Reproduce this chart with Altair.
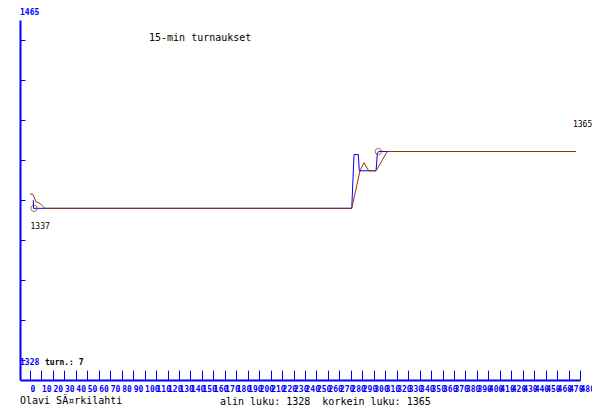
import altair as alt
import pandas as pd

# ---- data ----
raw_t = [2.9, 3.0, 280.8, 282.8, 286.5, 287.4, 302.0, 303.2, 304.6, 476.5]
raw_p = [1341, 1337, 1337, 1363.5, 1363.5, 1355.5, 1355.5, 1364.3, 1365, 1365]

ma_t = [0, 2.4, 5.2, 7.2, 9.3, 11.6, 13.1, 280.8, 288.0, 291.5, 295.6, 302.0, 311.8, 476.5]
ma_p = [1344, 1344, 1340.3, 1339.8, 1339.1, 1337.8, 1337, 1337, 1355.5, 1359.5, 1355.5, 1355.5, 1365, 1365]

ext_t = [3.5, 304.0]
ext_p = [1337, 1365]

min_label_t = [3.5]
min_label_p = [1337]
end_label_t = [476.5]
end_label_p = [1365]

x_ticks = list(range(0, 481, 10))
y_levels = [0, 1, 2, 3, 4, 5, 6, 7, 8]

title_text = "15-min turnaukset"
author_text = "Olavi SÃ¤rkilahti"
footer_text = "alin luku: 1328\u00a0 korkein luku: 1365"
turn_text = "turn.: 7"
y_top_label = "1465"
y_bottom_label = "1328"

BLUE = "#0000ff"
BROWN = "#993300"
MONO = "DejaVu Sans Mono"

X_DOM = [-8.73, 480]
Y_DOM = [1252.4, 1429.8]

df_raw = pd.DataFrame({"t": raw_t, "p": raw_p, "i": range(len(raw_t))})
df_ma = pd.DataFrame({"t": ma_t, "p": ma_p, "i": range(len(ma_t))})
df_ext = pd.DataFrame({"t": ext_t, "p": ext_p})
df_min = pd.DataFrame({"t": min_label_t, "p": min_label_p, "s": [str(v) for v in min_label_p]})
df_end = pd.DataFrame({"t": end_label_t, "p": end_label_p, "s": [str(v) for v in end_label_p]})

sx = alt.Scale(domain=X_DOM, nice=False, zero=False)
sy = alt.Scale(domain=Y_DOM, nice=False, zero=False)

x_axis = alt.Axis(orient="bottom", values=x_ticks, labelOverlap=False, labelFlush=False,
                  ticks=False, tickSize=0, labelPadding=5, labelAlign="left",
                  labelFont=MONO, labelFontSize=8, labelFontWeight="bold", labelColor=BLUE,
                  domainColor=BLUE, domainWidth=2, grid=False, title=None, format="d")
X = alt.X("t:Q", scale=sx, axis=x_axis)
Y = alt.Y("p:Q", scale=sy, axis=None)

raw = alt.Chart(df_raw).mark_line(color=BLUE, strokeWidth=1).encode(x=X, y=Y, order="i:Q")
ma = alt.Chart(df_ma).mark_line(color=BROWN, strokeWidth=1).encode(x=X, y=Y, order="i:Q")
ext = alt.Chart(df_ext).mark_point(shape="circle", filled=False, color=BROWN, size=40,
                                   strokeWidth=1).encode(x=X, y=Y)
min_lab = alt.Chart(df_min).mark_text(font=MONO, fontSize=8, color="black", align="left",
                                      baseline="middle", dx=-3.5, dy=19).encode(x=X, y=Y, text="s:N")
end_lab = alt.Chart(df_end).mark_text(font=MONO, fontSize=8, color="black", align="left",
                                      baseline="middle", dx=-3, dy=-26.5).encode(x=X, y=Y, text="s:N")


def static_text(txt, px, py, size, color, weight="normal"):
    return alt.Chart(pd.DataFrame({"s": [txt]})).mark_text(
        font=MONO, fontSize=size, color=color, fontWeight=weight, align="left", baseline="middle"
    ).encode(text="s:N", x=alt.value(px), y=alt.value(py))


texts = [
    static_text(title_text, 129, 18, 10, "black"),
    static_text(author_text, 0, 381, 10, "black"),
    static_text(footer_text, 200, 382, 10, "black"),
    static_text(turn_text, 25, 343, 8, "black", "bold"),
    static_text(y_top_label, 0, -7, 8, BLUE, "bold"),
    static_text(y_bottom_label, 0, 343, 8, BLUE, "bold"),
]

inner = alt.layer(raw, ma, ext, min_lab, end_lab, *texts)

tx = alt.Chart(pd.DataFrame({"v": x_ticks})).mark_point(opacity=0).encode(
    x=alt.X("v:Q", scale=sx,
            axis=alt.Axis(orient="top", offset=-360, values=x_ticks, labels=False, domain=False,
                          ticks=True, tickSize=10, tickColor=BLUE, tickWidth=1, grid=False, title=None))
)
ty = alt.Chart(pd.DataFrame({"lv": y_levels})).mark_point(opacity=0).encode(
    y=alt.Y("lv:Q", scale=alt.Scale(domain=[-0.5, 8.5], nice=False, zero=False),
            axis=alt.Axis(orient="right", offset=-560, values=y_levels, labels=False, ticks=True,
                          tickSize=5, tickColor=BLUE, tickWidth=1, domainColor=BLUE, domainWidth=2,
                          grid=False, title=None))
)

chart = alt.layer(inner, tx, ty).resolve_scale(x="independent", y="independent").properties(
    width=560, height=360,
    padding={"left": 12, "top": 12, "right": 12, "bottom": 32},
    autosize=alt.AutoSizeParams(type="none"),
    background="white",
).configure_view(stroke=None)

chart.save("out.html", embed_options={"renderer": "svg", "actions": False})
